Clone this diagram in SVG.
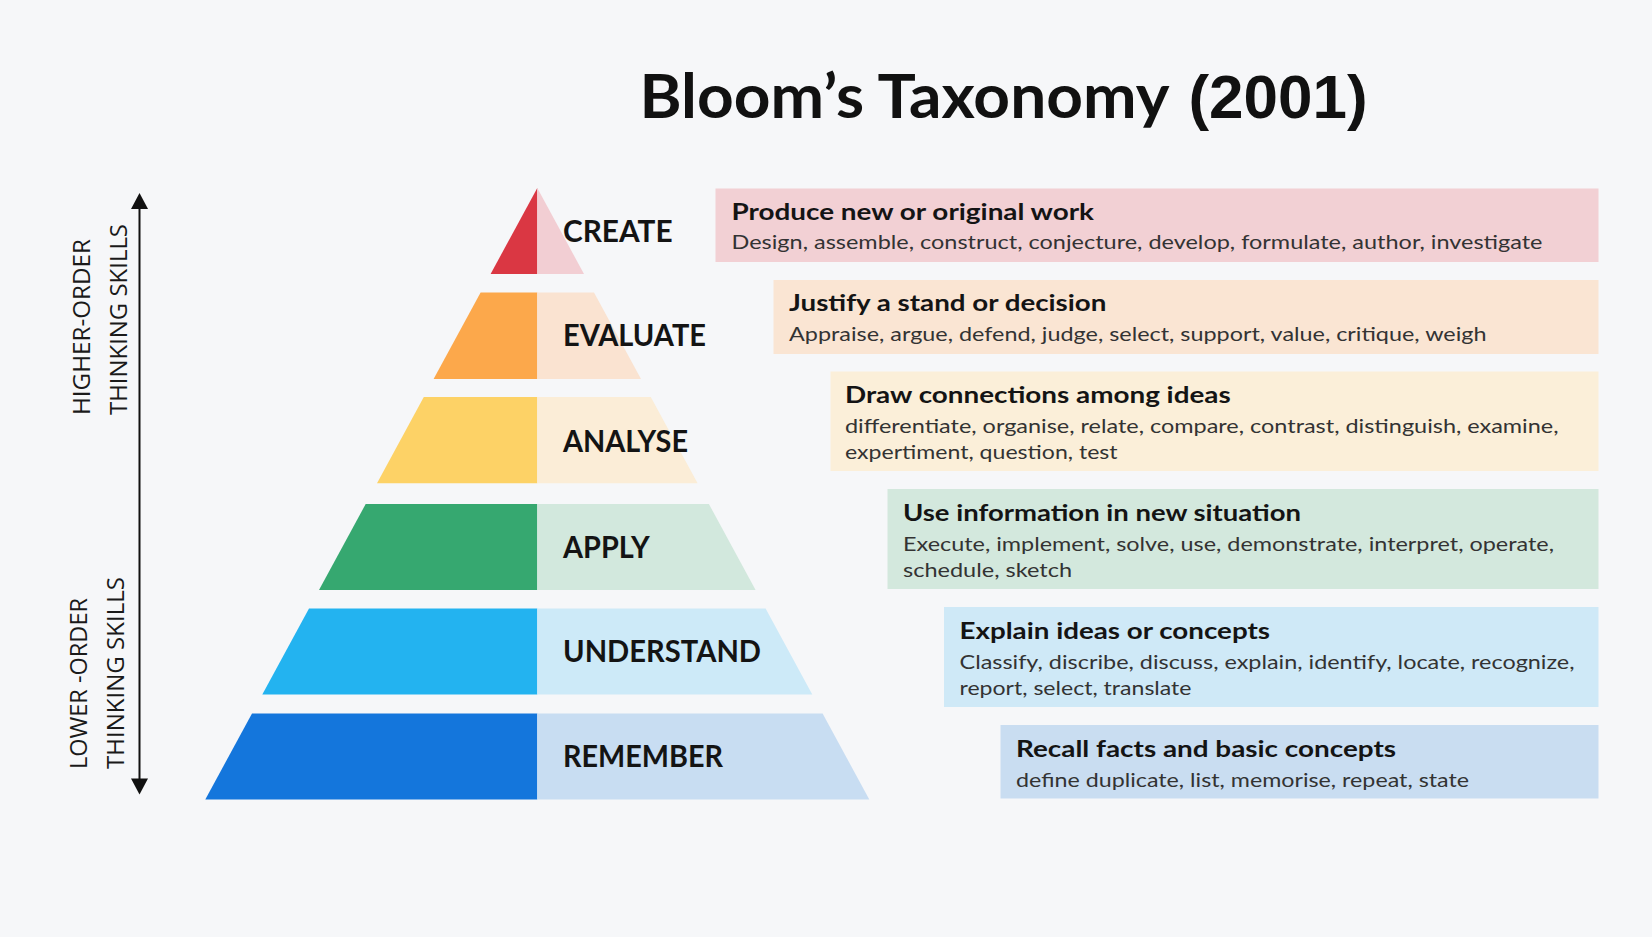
<svg xmlns="http://www.w3.org/2000/svg" width="1652" height="937" viewBox="0 0 1652 937">
  <style>
    .bg { fill: #F6F7F9; }
    .lvl { font-family: Lato, "Open Sans", "Liberation Sans", sans-serif; font-weight: 700; font-size: 29.5px; fill: #141414; }
    .ttl { font-family: Lato, "Open Sans", "Liberation Sans", sans-serif; font-weight: 700; font-size: 22.5px; fill: #141414; }
    .sub { font-family: Lato, "Open Sans", "Liberation Sans", sans-serif; font-weight: 400; font-size: 20px; fill: #333333; }
    .side { font-family: "Open Sans", "Liberation Sans", sans-serif; font-weight: 400; font-size: 23px; fill: #1a1a1a; }
    .axis { stroke: #111111; stroke-width: 2; fill: none; }
    .head { fill: #111111; }
  </style>

  <rect class="bg" x="0" y="0" width="1652" height="937"/>

  <!-- heading -->
  <g id="heading">
    <text x="639.5" y="118" font-family="Lato, 'Open Sans', 'Liberation Sans', sans-serif" font-weight="700" font-size="61px" fill="#111111" textLength="530" lengthAdjust="spacingAndGlyphs">Bloom’s Taxonomy</text>
    <text x="1188.5" y="118" font-family="'Liberation Sans', Arial, sans-serif" font-weight="700" font-size="62px" fill="#111111" textLength="179" lengthAdjust="spacingAndGlyphs">(2001)</text>
  </g>

  <!-- thinking-skills axis -->
  <g id="connectors">
    <line class="axis" x1="139.5" y1="205" x2="139.5" y2="782"/>
    <polygon class="head" points="139.5,193 148,209 131,209"/>
    <polygon class="head" points="139.5,794.5 148,778.5 131,778.5"/>
  </g>

  <g id="higher-order">
    <text class="side" transform="translate(90,415) rotate(-90)" textLength="176" lengthAdjust="spacingAndGlyphs">HIGHER-ORDER</text>
    <text class="side" transform="translate(127,415) rotate(-90)" textLength="191" lengthAdjust="spacingAndGlyphs">THINKING SKILLS</text>
  </g>
  <g id="lower-order">
    <text class="side" transform="translate(87,769) rotate(-90)" textLength="171" lengthAdjust="spacingAndGlyphs">LOWER -ORDER</text>
    <text class="side" transform="translate(124,769) rotate(-90)" textLength="192" lengthAdjust="spacingAndGlyphs">THINKING SKILLS</text>
  </g>

  <!-- CREATE -->
  <g id="create">
    <polygon fill="#DA3743" points="537.3,188 490.6,274 537.3,274"/>
    <polygon fill="#F2CED3" points="537.3,188 584,274 537.3,274"/>
    <text class="lvl" x="563" y="242" textLength="109.6" lengthAdjust="spacingAndGlyphs">CREATE</text>
    <rect x="715.5" y="188.5" width="883" height="73.5" fill="#F2D0D4"/>
    <text class="ttl" x="731.5" y="219.5" textLength="362.5" lengthAdjust="spacingAndGlyphs">Produce new or original work</text>
    <text class="sub" x="731.5" y="249" textLength="811" lengthAdjust="spacingAndGlyphs">Design, assemble, construct, conjecture, develop, formulate, author, investigate</text>
  </g>

  <!-- EVALUATE -->
  <g id="evaluate">
    <polygon fill="#FCA84B" points="480.6,292.5 537.3,292.5 537.3,379 433.6,379"/>
    <polygon fill="#FAE3D1" points="537.3,292.5 594,292.5 641,379 537.3,379"/>
    <text class="lvl" x="563" y="346" textLength="143" lengthAdjust="spacingAndGlyphs">EVALUATE</text>
    <rect x="773.5" y="280" width="825" height="74" fill="#FAE5D3"/>
    <text class="ttl" x="789" y="311" textLength="317.4" lengthAdjust="spacingAndGlyphs">Justify a stand or decision</text>
    <text class="sub" x="789" y="341" textLength="697.5" lengthAdjust="spacingAndGlyphs">Appraise, argue, defend, judge, select, support, value, critique, weigh</text>
  </g>

  <!-- ANALYSE -->
  <g id="analyse">
    <polygon fill="#FDD266" points="423.8,397 537.3,397 537.3,483.3 377,483.3"/>
    <polygon fill="#FBEDD7" points="537.3,397 650.8,397 697.6,483.3 537.3,483.3"/>
    <text class="lvl" x="563" y="451.5" textLength="125" lengthAdjust="spacingAndGlyphs">ANALYSE</text>
    <rect x="830.5" y="371.5" width="768" height="99.5" fill="#FBEFD9"/>
    <text class="ttl" x="845" y="402.5" textLength="385.7" lengthAdjust="spacingAndGlyphs">Draw connections among ideas</text>
    <text class="sub" x="845" y="433" textLength="713.5" lengthAdjust="spacingAndGlyphs">differentiate, organise, relate, compare, contrast, distinguish, examine,</text>
    <text class="sub" x="845" y="459" textLength="272.6" lengthAdjust="spacingAndGlyphs">expertiment, question, test</text>
  </g>

  <!-- APPLY -->
  <g id="apply">
    <polygon fill="#36A870" points="365.7,504 537.3,504 537.3,590 319,590"/>
    <polygon fill="#D2E8DD" points="537.3,504 708.9,504 755.6,590 537.3,590"/>
    <text class="lvl" x="563" y="557.5" textLength="86.7" lengthAdjust="spacingAndGlyphs">APPLY</text>
    <rect x="887.5" y="489" width="711" height="100" fill="#D3E8DD"/>
    <text class="ttl" x="903" y="520.5" textLength="398" lengthAdjust="spacingAndGlyphs">Use information in new situation</text>
    <text class="sub" x="903" y="551" textLength="651" lengthAdjust="spacingAndGlyphs">Execute, implement, solve, use, demonstrate, interpret, operate,</text>
    <text class="sub" x="903" y="577" textLength="169" lengthAdjust="spacingAndGlyphs">schedule, sketch</text>
  </g>

  <!-- UNDERSTAND -->
  <g id="understand">
    <polygon fill="#23B3F0" points="309,608.5 537.3,608.5 537.3,694.5 262.3,694.5"/>
    <polygon fill="#CDEAF8" points="537.3,608.5 765.6,608.5 812.3,694.5 537.3,694.5"/>
    <text class="lvl" x="563" y="662" textLength="198" lengthAdjust="spacingAndGlyphs">UNDERSTAND</text>
    <rect x="944" y="607" width="654.5" height="100" fill="#CFE9F7"/>
    <text class="ttl" x="959.5" y="638.5" textLength="310.5" lengthAdjust="spacingAndGlyphs">Explain ideas or concepts</text>
    <text class="sub" x="959.5" y="669" textLength="615" lengthAdjust="spacingAndGlyphs">Classify, discribe, discuss, explain, identify, locate, recognize,</text>
    <text class="sub" x="959.5" y="695" textLength="232" lengthAdjust="spacingAndGlyphs">report, select, translate</text>
  </g>

  <!-- REMEMBER -->
  <g id="remember">
    <polygon fill="#1476DC" points="252,713.5 537.3,713.5 537.3,799.5 205.3,799.5"/>
    <polygon fill="#C8DDF2" points="537.3,713.5 822.6,713.5 869.3,799.5 537.3,799.5"/>
    <text class="lvl" x="563" y="767" textLength="160" lengthAdjust="spacingAndGlyphs">REMEMBER</text>
    <rect x="1000.5" y="725" width="598" height="73.5" fill="#C9DDF1"/>
    <text class="ttl" x="1016" y="756.5" textLength="380" lengthAdjust="spacingAndGlyphs">Recall facts and basic concepts</text>
    <text class="sub" x="1016" y="787" textLength="453" lengthAdjust="spacingAndGlyphs">define duplicate, list, memorise, repeat, state</text>
  </g>
</svg>
